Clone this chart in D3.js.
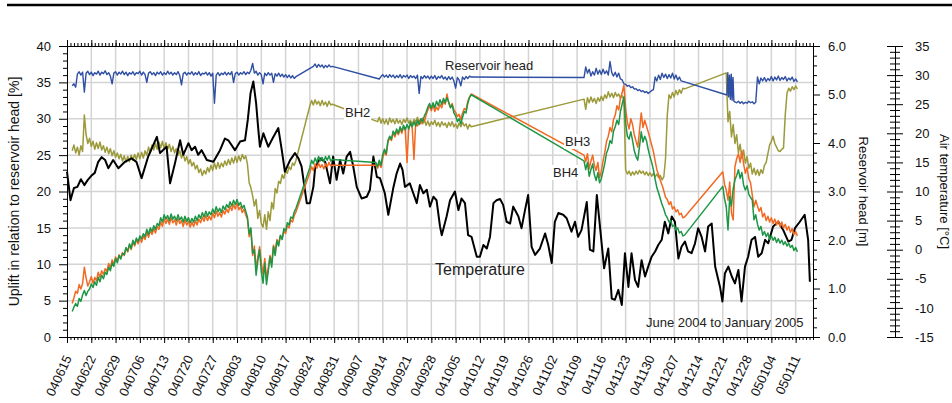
<!DOCTYPE html>
<html><head><meta charset="utf-8">
<script src="https://cdn.jsdelivr.net/npm/d3@7"></script>
<style>
body{margin:0;background:#fff;}
svg{display:block;font-family:"Liberation Sans",Arial,sans-serif;}
</style></head><body>
<svg id="c" width="952" height="403"></svg>
<script>
// ---------------- data ----------------
const startLabel = "040615";
const endLabel = "050116";
const xTickLabels = ["040615","040622","040629","040706","040713","040720","040727","040803","040810","040817","040824","040831","040907","040914","040921","040928","041005","041012","041019","041026","041102","041109","041116","041123","041130","041207","041214","041221","041228","050104","050111"];
const pctTicks = [0,5,10,15,20,25,30,35,40];
const headTicks = [0,1,2,3,4,5,6];
const tempTicks = [-15,-10,-5,0,5,10,15,20,25,30,35];

// series: [startDay (days after 040615), stepDays, values]
const resHead = [
 [1.5,0.5,[5.18,5.22,5.15,5.42,5.47,5.40,5.46,5.05,5.44,5.48,
  5.41,5.46,5.39,5.45,5.42,5.48,5.40,5.46,5.43,5.49,
  5.41,5.45,5.38,5.22,5.44,5.47,5.40,5.46,5.42,5.48,
  5.41,5.46,5.39,5.45,5.42,5.47,5.40,5.45,5.43,5.48,
  5.40,5.46,5.41,5.25,5.44,5.47,5.41,5.45,5.39,5.46,
  5.42,5.47,5.40,5.45,5.41,5.48,5.42,5.46,5.40,5.45,
  5.41,5.47,5.39,5.20,5.43,5.46,5.40,5.45,5.42,5.47,
  5.40,5.45,5.41,5.47,5.39,5.44,5.42,5.46,5.40,5.45,
  5.38,5.44,4.82,5.40,5.45,5.39,5.44,5.41,5.46,5.40,
  5.45,5.41,5.47,5.25,5.43,5.46,5.40,5.45,5.42,5.47,
  5.41,5.46,5.43,5.50,5.64,5.44,5.48,5.40,5.45,5.41,
  5.22,5.44,5.39,5.45,5.40,5.44,5.25,5.43,5.38,5.44,
  5.37,5.42,5.36,5.41,5.35,5.40,5.34,5.39,5.33,5.37]],
 [71,0.5,[5.58,5.63,5.56,5.62,5.57,5.61,5.55,5.60,5.56,5.61,5.57,5.58]],
 [90,0.5,[5.32,5.37,5.41,5.36,5.40,5.35,5.41,5.36,5.40,5.34,
  5.39,5.35,5.41,5.34,5.39,5.36,5.40,5.33,5.39,5.35,
  5.38,5.33,5.40,5.02,5.37,5.33,5.39,5.34,5.38,5.32,
  5.38,5.33,5.39,5.31,5.37,5.34,5.39,5.32,5.36,5.30,
  5.37,5.31,5.36,5.28,5.13,5.35,5.30,5.18,5.36,5.31,
  5.37,5.33,5.38,5.36]],
 [149,0.5,[5.35,5.57,5.44,5.52,5.38,5.47,5.40,5.54,5.42,5.50,
  5.41,5.52,5.43,5.49,5.40,5.68,5.45,5.38,5.46,5.36,
  5.44,5.32,5.30,5.22,5.21,5.17,5.19,5.14,5.16,5.11,
  5.12,5.08,5.10,5.06,5.08,5.04,5.06,5.02,5.05,5.08,
  5.10,5.36,5.28,5.40,5.31,5.44,5.35,5.42,5.33,5.41,
  5.34,5.44,5.32,5.40,5.30,5.36,5.28,5.27]],
 [190.2,0.25,[4.99,5.45,4.95,5.40,4.90,5.42,4.88,5.35,4.86]],
 [192.5,0.5,[4.85,4.83,4.86,4.82,4.85,4.81,4.84,4.82,4.86,4.83,4.85,4.81,4.84]],
 [199,0.5,[5.36,5.22,5.34,5.28,5.35,5.27,5.33,5.29,5.37,5.28,5.36,5.30,5.38,5.29,5.35,5.31,5.37,5.28,5.34,5.30,5.36,5.27,5.32,5.26]]
];

const bh2 = [
 [1.5,0.5,[25.6,26.4,25.3,26.1,25.0,26.3,25.5,30.5,27.8,26.6,
  27.3,26.2,26.9,25.8,26.7,25.9,26.8,25.7,26.3,25.4,
  26.1,25.2,25.9,24.9,25.6,24.7,25.3,24.5,25.1,24.2,
  24.9,24.0,24.8,24.1,25.0,24.3,25.1,24.4,25.3,24.5,
  25.4,24.6,25.6,25.0,26.1,25.3,26.4,25.7,26.6,25.8,
  26.8,26.0,26.9,25.9,26.7,25.8,26.5,25.5,26.2,25.3,
  25.9,25.0,25.6,24.6,25.2,24.2,24.8,23.8,24.4,23.5,
  24.0,23.1,23.6,22.6,23.1,22.2,22.9,22.4,23.3,22.7,
  23.6,22.9,23.9,23.1,24.0,23.2,23.9,23.4,24.2,23.6,
  24.4,23.7,24.6,23.9,24.8,24.0,24.9,24.2,25.1,24.5,
  24.9,23.8,21.2,20.5,19.4,18.0,18.9,16.3,17.4,15.6,
  15.1,16.8,14.8,17.2,16.0,18.5,17.6,20.4,19.8,21.4,
  21.1,22.3,21.8,22.9,22.5,23.4,23.0,23.9,23.6,24.3]],
 [70,0.5,[31.8,32.5,31.9,32.6,32.0,32.4,31.8,32.5,31.9,32.3,31.7,32.4,31.9,32.0]],
 [89.5,0.5,[29.6,30.2,29.4,30.0,29.3,29.9,29.2,30.1,29.5,29.9,
  29.3,30.0,29.4,29.8,29.2,29.9,29.5,30.1,29.4,29.8,
  29.2,29.9,29.6,30.2,29.5,29.9,29.3,29.8,29.1,29.7,
  29.0,29.6,29.2,29.8,29.0,29.5,28.9,29.6,29.1,29.4,
  28.8,29.5,29.0,29.6,28.9,29.3,28.7,29.4,28.9,29.5,
  29.0,29.3,28.6,29.2,28.9]],
 [149,0.5,[32.7,31.3,32.9,32.2,33.0,32.3,32.8,32.1,32.9,32.4,
  33.1,32.5,33.3,32.8,33.7,33.0,33.5,32.9,33.6,33.1,
  33.4,32.8,33.2,32.6,23.0,22.4,22.8,22.2,22.7,22.3,
  22.8,22.4,22.9,22.5,22.8,22.3,22.7,22.2,22.6,22.1,
  22.5,22.0,22.4,21.9,22.2,21.6,22.0,24.5,30.5,33.3,
  32.8,33.6,33.0,33.9,33.3,34.0,33.5,34.2,34.1]],
 [190,0.5,[36.3,29.6,31.0,27.5,29.2,26.6,27.8,25.3,26.5,24.6,
  25.7,23.9,24.8,23.2,23.9,22.4,23.2,22.3,23.0,22.2,
  23.0,22.5,23.6,24.0,25.2,26.4,26.9,27.6,26.6,26.1,
  25.6,25.5,25.8,26.0,30.5,33.5,34.2,33.8,34.4,34.0,
  34.5,34.1]]
];

const bh3 = [
 [1.5,0.5,[4.6,5.4,6.3,6.0,7.2,6.6,7.4,9.6,8.1,7.0,
  7.6,8.3,7.4,8.2,7.7,8.9,8.2,9.1,8.6,9.4,
  9.0,10.1,9.5,10.6,10.0,11.0,10.4,11.3,10.9,11.6,
  11.2,12.2,11.7,12.6,12.0,13.1,12.5,13.4,12.8,13.6,
  13.0,13.9,13.4,14.4,13.7,14.6,14.1,14.9,14.3,15.2,
  14.8,15.8,15.2,16.3,15.6,16.2,15.5,16.4,15.7,16.1,
  15.4,16.3,15.6,16.0,15.2,16.1,15.4,15.9,15.1,15.8,
  15.2,16.0,15.4,16.2,15.7,16.5,15.9,16.7,16.0,16.6,
  16.1,17.0,16.4,17.3,16.6,17.1,16.5,17.4,16.9,17.6,
  17.1,18.0,17.4,18.2,17.6,18.4,17.5,17.9,17.1,17.6,
  16.8,16.2,13.8,14.6,11.2,12.5,9.4,11.0,12.4,10.2,
  8.6,10.8,8.0,9.5,11.2,10.1,12.6,11.8,13.4,12.9,
  13.9,13.5,14.6,14.2,15.3,15.0,16.1,15.8,16.7,17.2]],
 [70,0.5,[22.6,23.4,22.9,23.8,23.2,23.9,23.3,23.7,23.1,23.8,23.4,24.0,23.5,23.6]],
 [89,0.5,[23.6,23.2,23.9,23.3,24.6,25.5,25.0,26.8,27.4,27.0,
  28.1,27.5,28.3,27.8,28.6,28.0,28.9,28.3,24.0,28.8,
  29.3,28.7,24.4,29.5,29.0,29.8,29.3,30.1,29.6,30.5,
  31.2,31.8,31.1,31.9,31.0,31.6,31.2,32.0,31.5,32.4,
  32.0,33.4,32.2,31.6,32.1,31.2,30.9,30.3,30.6,29.9,
  30.8,31.4,31.2,32.4,33.0,33.4]],
 [149,0.5,[25.0,24.1,25.2,23.1,24.2,25.0,23.6,22.9,24.0,21.9,
  22.8,24.2,25.4,26.9,27.6,28.8,28.2,29.9,30.5,31.8,
  31.2,32.8,33.6,34.6,31.4,29.5,28.6,30.0,29.2,27.8,
  26.9,26.1,28.4,30.8,28.8,29.8,29.0,28.2,27.3,26.4,
  25.5,24.2,23.0,22.3,21.5,20.9,20.1,19.2,18.9,18.2,
  18.6,17.6,17.9,17.2,17.5,16.8,17.0,16.4,16.5]],
 [189,0.5,[22.7,21.0,20.2,18.8,21.3,17.0,16.1,23.4,24.5,25.2,24.0,
  25.6,23.8,22.5,23.3,21.8,21.2,19.5,17.9,18.8,18.0,
  17.3,17.8,16.5,17.0,16.0,16.6,15.8,16.4,15.6,16.2,
  15.4,16.0,15.2,15.8,15.0,15.5,14.7,15.2,14.4,14.9,
  14.1,14.5,13.9]]
];

const bh4 = [
 [1.5,0.5,[3.5,4.1,4.6,4.2,5.3,4.9,5.8,6.4,5.7,6.3,
  6.6,7.3,6.8,7.6,7.1,8.2,7.6,8.5,8.0,8.9,
  8.6,9.6,9.1,10.2,9.7,10.8,10.2,11.2,10.7,11.5,
  11.3,12.3,11.8,12.8,12.2,13.3,12.7,13.6,13.1,13.9,
  13.5,14.2,13.8,14.8,14.1,15.0,14.5,15.3,14.8,15.6,
  15.3,16.4,15.8,16.8,16.2,16.7,16.0,16.9,16.2,16.6,
  16.0,16.8,16.1,16.5,15.8,16.6,15.9,16.4,15.7,16.3,
  15.8,16.6,16.0,16.8,16.3,17.1,16.5,17.3,16.6,17.2,
  16.8,17.6,17.0,17.9,17.2,17.7,17.1,18.0,17.5,18.2,
  17.8,18.6,18.0,18.8,18.2,18.9,18.1,18.5,17.7,18.1,
  17.3,16.5,14.2,15.0,11.5,12.0,8.5,10.5,12.0,9.0,
  7.4,10.2,7.2,9.0,11.0,9.6,12.4,11.2,13.2,12.5,
  14.0,13.4,14.9,14.6,15.7,15.4,16.5,16.3,17.2,17.7]],
 [70,0.5,[23.3,24.3,23.8,24.6,24.0,24.8,24.2,24.7,24.1,24.8,24.3,24.9,24.2,24.4]],
 [89,0.5,[24.0,23.4,24.3,23.6,25.1,25.8,25.2,27.0,27.6,27.2,
  28.3,27.8,28.6,28.0,28.9,28.3,29.1,28.5,29.2,28.6,
  29.5,28.9,29.6,29.0,29.8,29.2,30.0,29.6,30.4,30.9,
  31.6,32.1,31.4,32.2,31.5,32.4,31.8,32.6,32.0,32.8,
  32.2,32.9,32.3,31.5,31.9,30.8,30.4,29.6,30.0,29.3,
  30.2,31.0,30.8,32.1,32.9,33.3]],
 [149,0.5,[24.2,23.0,24.0,22.1,23.0,23.8,22.3,21.5,22.6,21.2,
  21.8,22.8,23.9,25.3,25.9,27.0,26.6,28.3,28.9,29.8,
  29.2,31.0,32.0,33.0,29.4,27.6,27.2,28.2,27.0,25.6,
  24.8,24.3,26.2,28.2,26.8,27.6,27.0,25.8,24.8,24.0,
  23.0,21.7,20.5,19.8,19.0,18.2,17.6,16.8,16.4,15.8,
  16.0,15.2,15.4,14.7,15.0,14.3,14.5,13.9,14.0]],
 [189,0.5,[20.7,19.0,17.9,14.7,19.3,18.0,20.4,21.6,22.2,23.0,21.8,
  22.6,20.9,20.2,20.8,19.6,19.2,18.8,16.1,16.8,15.5,
  14.7,15.2,14.0,14.5,13.8,14.3,13.4,13.9,13.3,13.7,
  13.0,13.5,12.9,13.3,12.7,13.1,12.5,12.9,12.3,12.6,
  11.9,12.3,11.7]]
];

// air temperature [day, degC]
const airTemp = [[0,13.4],[1,8.5],[2,10.6],[3,10.8],[4,12.1],[5,11.1],[6,12.0],[7,12.7],[8,13.2],[9,15.1],
 [10,15.9],[11,15.4],[11.9,14.0],[13.3,15.4],[14.8,14.0],[16.7,15.1],[18.6,15.7],[20,15.1],[21.5,12.3],[23.4,16.0],
 [25.9,19.4],[26.8,16.6],[28.7,17.7],[29.7,11.4],[31.1,14.8],[32.6,18.8],[33.5,16.3],[35,18.3],[35.9,17.1],[36.9,17.7],
 [37.8,16.3],[38.8,17.1],[40.3,15.4],[42.2,15.1],[44.1,17.1],[45.5,19.1],[46.5,18.8],[48.4,17.1],[49.9,18.6],[51.3,18.8],
 [52.1,22.3],[52.9,26.9],[53.7,28.9],[54.5,25.2],[55.1,20.9],[55.6,17.7],[56.6,20.0],[58,17.7],[59.5,19.4],[60.9,20.9],
 [61.9,17.1],[62.8,13.4],[64.3,15.4],[65.7,16.6],[66.7,15.7],[67.6,14.3],[69.1,8.0],[70,8.0],[71,10.8],[71.5,14.0],
 [72.9,15.7],[74.4,15.1],[75.8,11.4],[76.7,16.0],[77.7,12.0],[78.7,15.4],[79.6,13.1],[80.6,16.0],[81.6,16.8],[82.5,14.3],
 [83.5,10.8],[84.9,8.8],[86.4,9.1],[87.3,10.3],[88.3,16.0],[89.3,12.5],[90.2,12.3],[91.6,9.7],[92.6,6.0],[94,10.5],
 [95,13.1],[96,14.8],[96.7,13.7],[97.4,10.8],[98.8,11.4],[99.8,9.7],[100.8,8.0],[101.7,11.1],[102.7,9.7],[103.7,10.3],
 [104.6,7.4],[105.6,9.1],[106.5,8.5],[107.5,4.0],[108,2.5],[109.4,5.7],[110.4,8.5],[111.8,10.0],[112.8,6.8],[113.7,8.8],
 [114.7,8.0],[115.6,2.5],[116.6,2.2],[117.6,-0.1],[118.1,-1.2],[119,-1.2],[120,0.8],[121,0.2],[121.9,2.2],[122.9,8.0],
 [123.8,8.5],[124.8,8.7],[125.7,7.7],[126.7,4.8],[127.7,4.5],[128.6,7.4],[130.1,5.7],[131,3.7],[132,6.8],[132.9,9.4],
 [133.9,0.5],[134.9,-0.9],[136.3,0.2],[137.8,2.8],[138.7,0.8],[139.7,-2.3],[140.6,4.8],[141.6,6.3],[143,6.0],[144,5.4],
 [145.4,3.1],[146.4,4.8],[147.3,2.2],[148.3,3.4],[149.8,8.2],[150.7,0.0],[151.7,-0.3],[152.7,9.4],[153.6,4.0],[154.8,-3.2],
 [156,0.2],[157,-8.4],[157.9,-8.6],[158.9,-6.9],[159.9,-9.5],[160.8,-0.6],[161.8,-6.4],[162.7,-0.6],[163.7,-5.2],[164.6,-6.4],
 [165.6,-1.8],[166.6,-4.6],[167.5,-2.9],[168.5,-1.2],[169.5,-0.3],[170.4,0.8],[171.4,1.7],[172.3,4.8],[173.3,2.8],[174.3,5.7],
 [175.2,4.8],[176.2,-1.5],[177.1,0.5],[178.1,1.4],[179,-0.3],[180,-0.6],[181,1.1],[181.9,3.7],[182.9,2.2],[183.9,-0.3],
 [184.8,4.0],[185.8,4.5],[186.8,-2.9],[188.2,-6.4],[188.9,-8.9],[189.6,-4.1],[190.6,-2.9],[191.6,-4.6],[192.5,-5.8],[193.5,-3.5],
 [194.4,-8.9],[195.4,-2.9],[196.3,-1.2],[197.3,1.7],[198.3,2.2],[199.2,-1.2],[200.2,-0.6],[201.2,1.7],[202.1,1.1],[203.5,4.0],
 [205,4.8],[206.4,3.4],[207.9,1.4],[208.8,1.7],[209.8,3.7],[211.2,4.8],[212.6,6.0],[213.6,1.7],[214.1,-5.5]];

// ---------------- chart ----------------
const svg = d3.select("#c");
const L = 67, R = 813, T = 46, B = 337;
const parse = d3.utcParse("%y%m%d");
const t0 = parse(startLabel), t1 = parse(endLabel);
const x = d3.scaleUtc().domain([t0, t1]).range([L, R]);
const yPct = d3.scaleLinear().domain([0, 40]).range([B, T]);
const yHead = d3.scaleLinear().domain([0, 6]).range([B, T]);
const yTemp = d3.scaleLinear().domain([-15, 35]).range([B, T]);
const dayDate = d => new Date(t0.getTime() + d * 864e5);
const expand = segs => segs.flatMap(([s, st, vals]) => vals.map((v, i) => [s + i * st, v]));

// top rule
svg.append("line").attr("x1", 7).attr("x2", 952).attr("y1", 5).attr("y2", 5)
  .attr("stroke", "#000").attr("stroke-width", 2.6);

// grid
const weekDates = xTickLabels.map(parse);
const grid = svg.append("g").attr("stroke", "#d4d4d4").attr("stroke-width", 1.5);
grid.selectAll("line.v").data(weekDates.slice(1)).join("line")
  .attr("x1", d => x(d)).attr("x2", d => x(d)).attr("y1", T).attr("y2", B);
grid.selectAll("line.h").data(pctTicks.slice(1, -1)).join("line")
  .attr("x1", L).attr("x2", R).attr("y1", d => yPct(d)).attr("y2", d => yPct(d));

// series
const lineFn = (ys) => d3.line().x(d => x(dayDate(d[0]))).y(d => ys(d[1]));
const plot = svg.append("g").attr("fill", "none").attr("stroke-linejoin", "round");
plot.append("path").datum(expand(bh2)).attr("d", lineFn(yPct)).attr("stroke", "#9c9a3a").attr("stroke-width", 1.5);
plot.append("path").datum(airTemp).attr("d", lineFn(yTemp)).attr("stroke", "#000").attr("stroke-width", 2);
plot.append("path").datum(expand(bh3)).attr("d", lineFn(yPct)).attr("stroke", "#f26a22").attr("stroke-width", 1.5);
plot.append("path").datum(expand(bh4)).attr("d", lineFn(yPct)).attr("stroke", "#1e9646").attr("stroke-width", 1.5);
plot.append("path").datum(expand(resHead)).attr("d", lineFn(yHead)).attr("stroke", "#2f4fa3").attr("stroke-width", 1.4);

// labels
const lab = svg.append("g").attr("fill", "#222");
function label(txt, xx, yy, size, bg) {
  const t = lab.append("text").attr("x", xx).attr("y", yy).attr("font-size", size).text(txt);
  if (bg) {
    const b = t.node().getBBox();
    lab.insert("rect", () => t.node()).attr("x", b.x - 1).attr("y", b.y).attr("width", b.width + 2).attr("height", b.height).attr("fill", "#fff");
  }
}
label("Reservoir head", 445, 70, 13, false);
label("BH2", 345, 117, 13, true);
label("BH3", 565, 146, 13, true);
label("BH4", 553, 177, 13, true);
label("Temperature", 435, 275, 16, false);
label("June 2004 to January 2005", 646, 327, 13, false);

// axes
const styleAxis = g => { g.selectAll("text").attr("font-size", 13).attr("font-family", "Liberation Sans, Arial, sans-serif").attr("fill", "#111"); g.selectAll("line,path").attr("stroke", "#000"); };
const days = d3.utcDay.range(t0, d3.utcDay.offset(t1, 1));

// bottom
svg.append("g").attr("transform", `translate(0,${B})`).call(d3.axisBottom(x).tickValues(days).tickSize(3).tickSizeOuter(0).tickFormat("")).call(styleAxis);
svg.append("g").attr("transform", `translate(0,${B})`).call(d3.axisBottom(x).tickValues(weekDates).tickSize(6).tickSizeOuter(0).tickFormat("")).call(styleAxis);
svg.append("g").selectAll("text").data(xTickLabels).join("text")
  .attr("transform", d => `translate(${x(parse(d)) + 1},356) rotate(-65)`)
  .attr("text-anchor", "end").attr("dy", "0.35em").attr("font-size", 13).attr("fill", "#111").text(d => d);
// top
svg.append("g").attr("transform", `translate(0,${T})`).call(d3.axisTop(x).tickValues(days).tickSize(3).tickSizeOuter(0).tickFormat("")).call(styleAxis);
svg.append("g").attr("transform", `translate(0,${T})`).call(d3.axisTop(x).tickValues(weekDates).tickSize(6).tickSizeOuter(0).tickFormat("")).call(styleAxis);

// left
const minorPct = d3.range(0, 41).filter(v => v % 5 !== 0);
svg.append("g").attr("transform", `translate(${L},0)`).call(d3.axisLeft(yPct).tickValues(minorPct).tickSize(4).tickSizeOuter(0).tickFormat("")).call(styleAxis);
svg.append("g").attr("transform", `translate(${L},0)`).call(d3.axisLeft(yPct).tickValues(pctTicks).tickSize(8).tickPadding(8).tickSizeOuter(0).tickFormat(d => String(d))).call(styleAxis);

// right (reservoir head)
const minorHead = d3.range(0, 31).map(v => v / 5).filter((v, i) => i % 5 !== 0);
svg.append("g").attr("transform", `translate(${R},0)`).call(d3.axisRight(yHead).tickValues(minorHead).tickSize(4).tickSizeOuter(0).tickFormat("")).call(styleAxis);
svg.append("g").attr("transform", `translate(${R},0)`).call(d3.axisRight(yHead).tickValues(headTicks).tickSize(7).tickPadding(8).tickSizeOuter(0).tickFormat(d3.format(".1f"))).call(styleAxis);

// air temperature axis
const TX = 895;
const minorTemp = d3.range(-15, 36).filter(v => v % 5 !== 0);
svg.append("g").attr("transform", `translate(${TX},0)`).call(d3.axisRight(yTemp).tickValues(minorTemp).tickSize(5).tickSizeOuter(0).tickFormat("")).call(styleAxis);
svg.append("g").attr("transform", `translate(${TX},0)`).call(d3.axisLeft(yTemp).tickValues(minorTemp).tickSize(5).tickSizeOuter(0).tickFormat("")).call(styleAxis);
svg.append("g").attr("transform", `translate(${TX},0)`).call(d3.axisLeft(yTemp).tickValues(tempTicks).tickSize(8).tickSizeOuter(0).tickFormat("")).call(styleAxis);
svg.append("g").attr("transform", `translate(${TX},0)`).call(d3.axisRight(yTemp).tickValues(tempTicks).tickSize(8).tickPadding(12).tickSizeOuter(0).tickFormat(d => String(d))).call(styleAxis);

// axis titles
svg.append("text").attr("transform", `translate(15,${(T + B) / 2}) rotate(-90)`).attr("text-anchor", "middle").attr("dominant-baseline", "middle")
  .attr("font-size", 14).attr("fill", "#111").text("Uplift in relation to reservoir head [%]");
svg.append("text").attr("transform", `translate(862,${(T + B) / 2}) rotate(90)`).attr("text-anchor", "middle").attr("dominant-baseline", "middle")
  .attr("font-size", 13).attr("fill", "#111").text("Reservoir head [m]");
svg.append("text").attr("transform", `translate(943,${(T + B) / 2}) rotate(90)`).attr("text-anchor", "middle").attr("dominant-baseline", "middle")
  .attr("font-size", 13).attr("fill", "#111").text("Air temperature [°C]");
</script>
</body></html>
